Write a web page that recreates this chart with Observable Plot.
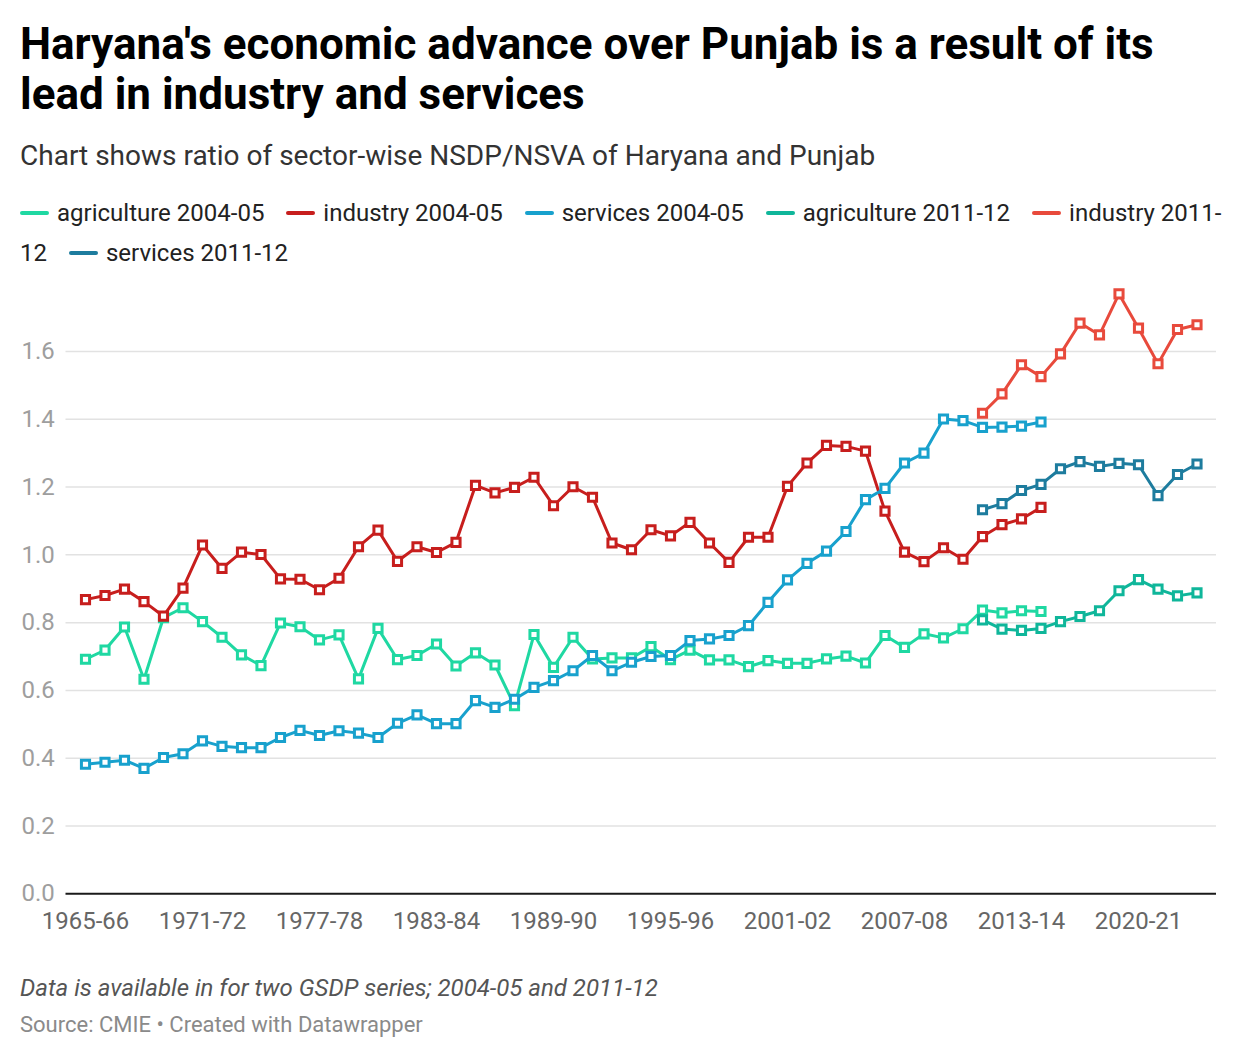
<!DOCTYPE html>
<html>
<head>
<meta charset="utf-8">
<script src="https://cdn.jsdelivr.net/npm/d3@7"></script>
<script src="https://cdn.jsdelivr.net/npm/@observablehq/plot@0.6"></script>
<style>
  html, body { margin: 0; padding: 0; background: #fff; }
  body { width: 1240px; height: 1058px; position: relative; font-family: Roboto, "Noto Sans", sans-serif; color: #1d1d1d; overflow: hidden; }
  .abs { position: absolute; left: 20px; }
  #title { top: 19px; width: 1200px; font-size: 44px; font-weight: 700; line-height: 50px; color: #000; }
  #subtitle { top: 138px; font-size: 28px; line-height: 36px; color: #333; }
  #legend { top: 193px; width: 1205px; font-size: 24px; line-height: 40px; color: #222; }
  #legend .gap { display: inline-block; width: 16px; }
  #legend .swatch { display: inline-block; width: 29px; height: 4px; border-radius: 2px; vertical-align: middle; margin-right: 8px; position: relative; top: -2px; }
  #chart { position: absolute; left: 0; top: 270px; }
  #note { top: 972px; font-size: 24px; font-style: italic; color: #555; line-height: 32px; }
  #source { top: 1010px; font-size: 22px; color: #8a8a8a; line-height: 30px; }
</style>
</head>
<body>
<div id="title" class="abs">Haryana's economic advance over Punjab is a result of its lead in industry and services</div>
<div id="subtitle" class="abs">Chart shows ratio of sector-wise NSDP/NSVA of Haryana and Punjab</div>
<div id="legend" class="abs"></div>
<div id="chart"></div>
<div id="note" class="abs">Data is available in for two GSDP series; 2004-05 and 2011-12</div>
<div id="source" class="abs">Source: CMIE • Created with Datawrapper</div>
<script>
// Period axis: one step per fiscal year, first point is 1965-66.
const tickPositions = [0, 6, 12, 18, 24, 30, 36, 42, 48, 54];
const tickLabels = ["1965-66", "1971-72", "1977-78", "1983-84", "1989-90", "1995-96", "2001-02", "2007-08", "2013-14", "2020-21"];

// 2004-05 base series, starting at period 0
const start0405 = 0;
const agriculture0405 = [
  0.692, 0.719, 0.787, 0.633, 0.815, 0.844, 0.803, 0.757, 0.705, 0.673,
  0.799, 0.788, 0.749, 0.764, 0.634, 0.783, 0.691, 0.703, 0.737, 0.672,
  0.711, 0.675, 0.555, 0.765, 0.668, 0.757, 0.693, 0.696, 0.696, 0.729,
  0.691, 0.719, 0.690, 0.690, 0.670, 0.688, 0.680, 0.680, 0.693, 0.701,
  0.681, 0.762, 0.727, 0.767, 0.755, 0.782, 0.837, 0.829, 0.835, 0.833
];
const industry0405 = [
  0.868, 0.880, 0.899, 0.862, 0.819, 0.902, 1.029, 0.960, 1.008, 1.001,
  0.929, 0.928, 0.897, 0.931, 1.024, 1.073, 0.981, 1.024, 1.007, 1.037,
  1.205, 1.183, 1.199, 1.229, 1.145, 1.201, 1.170, 1.035, 1.015, 1.074,
  1.056, 1.096, 1.035, 0.978, 1.052, 1.052, 1.202, 1.271, 1.323, 1.320,
  1.306, 1.129, 1.008, 0.980, 1.021, 0.987, 1.054, 1.089, 1.106, 1.140
];
const services0405 = [
  0.382, 0.388, 0.394, 0.370, 0.402, 0.413, 0.451, 0.435, 0.431, 0.431,
  0.461, 0.482, 0.467, 0.481, 0.474, 0.461, 0.503, 0.528, 0.502, 0.502,
  0.570, 0.550, 0.574, 0.609, 0.629, 0.658, 0.703, 0.658, 0.683, 0.700,
  0.703, 0.747, 0.752, 0.762, 0.791, 0.860, 0.926, 0.975, 1.011, 1.069,
  1.163, 1.196, 1.271, 1.300, 1.401, 1.396, 1.376, 1.377, 1.380, 1.392
];

// 2011-12 base series, starting at period 46 (2011-12)
const start1112 = 46;
const agriculture1112 = [0.808, 0.781, 0.777, 0.783, 0.803, 0.818, 0.835, 0.894, 0.927, 0.899, 0.879, 0.888];
const industry1112 = [1.418, 1.475, 1.561, 1.526, 1.593, 1.684, 1.649, 1.770, 1.669, 1.564, 1.665, 1.679];
const services1112 = [1.133, 1.151, 1.190, 1.208, 1.254, 1.275, 1.261, 1.270, 1.266, 1.175, 1.237, 1.268];

const seriesNames = ["agriculture 2004-05", "industry 2004-05", "services 2004-05", "agriculture 2011-12", "industry 2011-12", "services 2011-12"];
const seriesColors = ["#1fd8a2", "#c71e1d", "#18a1cd", "#0fb69a", "#e84a3c", "#1d7c9e"];
const yTicks = [0, 0.2, 0.4, 0.6, 0.8, 1.0, 1.2, 1.4, 1.6];

const seriesValues = [agriculture0405, industry0405, services0405, agriculture1112, industry1112, services1112];
const seriesStarts = [start0405, start0405, start0405, start1112, start1112, start1112];

const series = seriesNames.map((name, k) => ({
  name,
  color: seriesColors[k],
  points: seriesValues[k].map((v, i) => ({x: seriesStarts[k] + i, y: v}))
}));

// Legend: flows like running text; each word is its own span so a label
// may wrap after a hyphen without one box spanning two lines.
const legend = document.getElementById("legend");
series.forEach((s, k) => {
  if (k > 0) {
    legend.appendChild(document.createTextNode(" "));
    const gap = document.createElement("span");
    gap.className = "gap";
    legend.appendChild(gap);
  }
  const sw = document.createElement("span");
  sw.className = "swatch";
  sw.style.background = s.color;
  legend.appendChild(sw);
  const tokens = s.name.match(/[^\s-]+-?|\s+/g);
  tokens.forEach(t => {
    if (/^\s+$/.test(t)) {
      legend.appendChild(document.createTextNode(" "));
    } else {
      const w = document.createElement("span");
      w.textContent = t;
      legend.appendChild(w);
    }
  });
});

const marks = [
  Plot.gridY(yTicks.filter(d => d > 0), {stroke: "#e2e2e2", strokeOpacity: 1, strokeWidth: 1.5}),
  Plot.axisY(yTicks, {
    tickSize: 0, tickPadding: 0, textAnchor: "start", dx: -44.5,
    tickFormat: d3.format(".1f"), fill: "#9e9e9e", fontSize: 24, label: null
  }),
  Plot.axisX(tickPositions, {
    tickSize: 0, tickPadding: 18, fill: "#666", fontSize: 24, label: null,
    tickFormat: d => tickLabels[tickPositions.indexOf(d)]
  }),
  Plot.ruleY([0], {stroke: "#1a1a1a", strokeWidth: 2})
];
for (const s of series) {
  marks.push(Plot.line(s.points, {x: "x", y: "y", stroke: s.color, strokeWidth: 3, curve: "linear"}));
  marks.push(Plot.dot(s.points, {x: "x", y: "y", symbol: "square", r: 4.6, fill: "#fff", stroke: s.color, strokeWidth: 3}));
}

const chart = Plot.plot({
  width: 1240,
  height: 683,
  marginLeft: 65.5,
  marginRight: 24,
  marginTop: 13.25,
  marginBottom: 59.75,
  style: {fontFamily: "Roboto, sans-serif", background: "transparent", overflow: "visible"},
  x: {domain: [-1, 58], axis: null},
  y: {domain: [0, 1.8], axis: null},
  marks
});
document.getElementById("chart").appendChild(chart);
</script>
</body>
</html>
